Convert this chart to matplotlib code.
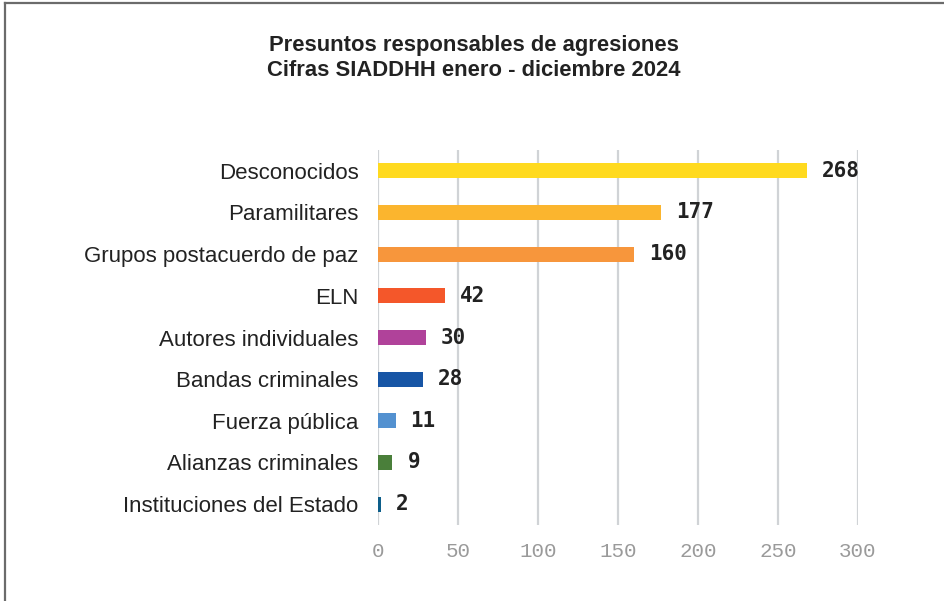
import matplotlib.pyplot as plt
from matplotlib.lines import Line2D

categorias = ["Desconocidos", "Paramilitares", "Grupos postacuerdo de paz", "ELN",
              "Autores individuales", "Bandas criminales", "Fuerza pública",
              "Alianzas criminales", "Instituciones del Estado"]
casos = [268, 177, 160, 42, 30, 28, 11, 9, 2]
colores = ["#FFDA1F", "#FBB52E", "#F7963C", "#F4572A", "#B0429A",
           "#1755A5", "#5391D0", "#4A7F3A", "#0D5E8A"]
ticks_x = [0, 50, 100, 150, 200, 250, 300]

fig = plt.figure(figsize=(9.45, 6.01), dpi=100)
ax = fig.add_axes([378 / 945, 1 - 525 / 601, 480 / 945, 375 / 601])

y = list(range(len(categorias)))
ax.barh(y, casos, height=0.36, color=colores, zorder=3)
ax.set_ylim(len(categorias) - 0.5, -0.5)
ax.set_xlim(0, 300)

# valor al final de cada barra
for yi, v in zip(y, casos):
    ax.annotate(str(v), (v, yi), xytext=(15, 0), textcoords="offset pixels",
                va="center", ha="left", fontsize=15, fontweight="bold",
                family="DejaVu Sans Mono", color="#222222")

ax.set_yticks(y)
ax.set_yticklabels(categorias, fontsize=16, family="Liberation Sans", color="#222222")
ax.set_xticks(ticks_x)
ax.set_xticklabels([str(t) for t in ticks_x], fontsize=15, family="Liberation Mono", color="#9A9A9A")
ax.tick_params(axis="y", length=0, pad=14)
ax.tick_params(axis="x", length=0, pad=12)
ax.grid(axis="x", color="#D0D3D6", linewidth=1.6, zorder=0)
for s in ax.spines.values():
    s.set_visible(False)

fig.text(474 / 945, 1 - 45 / 601, "Presuntos responsables de agresiones",
         ha="center", va="center", fontsize=15.8, fontweight="bold",
         family="Liberation Sans", color="#222222")
fig.text(474 / 945, 1 - 70 / 601, "Cifras SIADDHH enero - diciembre 2024",
         ha="center", va="center", fontsize=15.8, fontweight="bold",
         family="Liberation Sans", color="#222222")

# marco gris exterior
fig.add_artist(Line2D([5.5 / 945, 5.5 / 945], [0, 1 - 2.5 / 601], color="#6B6B6B",
                      linewidth=1.6, transform=fig.transFigure))
fig.add_artist(Line2D([5.5 / 945, 1], [1 - 2.5 / 601, 1 - 2.5 / 601], color="#6B6B6B",
                      linewidth=1.6, transform=fig.transFigure))

fig.savefig("out.png", dpi=100)
